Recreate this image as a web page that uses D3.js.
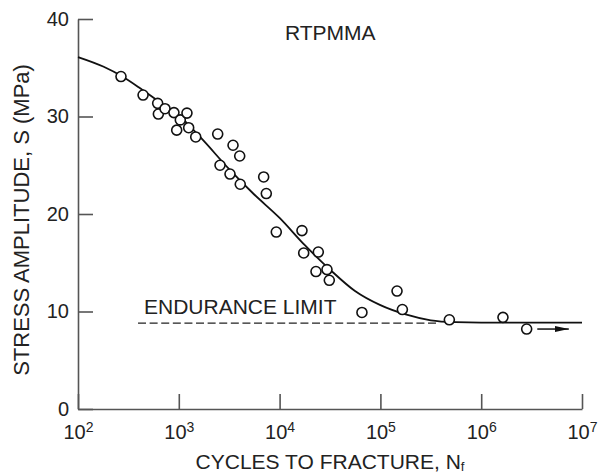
<!DOCTYPE html>
<html>
<head>
<meta charset="utf-8">
<script src="https://cdn.jsdelivr.net/npm/d3@7"></script>
<style>
    body { margin: 0; background: #fff; }
    svg text { font-family: "Liberation Sans", Arial, Helvetica, sans-serif; fill: #222; }
    .axis path, .axis line { stroke: #555; stroke-width: 1.6; }
</style>
</head>
<body>
<div id="chart"></div>
<script>
/**
 * S-N curve for RTPMMA: stress amplitude against cycles to fracture,
 * with the fitted curve and the endurance limit.
 */

/**** DATA ****/

// test points: cycles to fracture and stress amplitude (MPa)
var pointCycles = [267, 442, 617, 627, 730, 895, 953, 1035, 1205, 1253,
    1472, 2432, 2564, 3451, 3221, 4020, 4070, 6950, 7380, 9270,
    16670, 17340, 24210, 22960, 29510, 31120, 65600, 146200, 165200,
    483000, 1644000, 2825000];
var pointStress = [34.1, 32.2, 31.35, 30.25, 30.8, 30.4, 28.6, 29.65, 30.35, 28.85,
    27.9, 28.2, 25.0, 27.05, 24.1, 25.95, 23.05, 23.8, 22.1, 18.15,
    18.3, 16.0, 16.1, 14.1, 14.3, 13.2, 9.9, 12.1, 10.2,
    9.15, 9.4, 8.2];

var curveCycles = [1e2, 1.8e2, 2.7e2, 4e2, 6.2e2, 1e3, 1.66e3, 3.16e3, 5.6e3, 1e4,
    1.78e4, 3.16e4, 5.6e4, 1e5, 1.78e5, 3.16e5, 5.6e5, 1e6, 3.16e6, 1e7];
var curveStress = [36.1, 35.1, 34.15, 33.0, 31.6, 30.1, 27.8, 24.6, 22.0, 19.6,
    16.8, 14.3, 12.1, 10.65, 9.7, 9.1, 8.9, 8.85, 8.85, 8.85];

// endurance limit (dashed) and the run-out arrow
var enduranceCycles = [394, 361000];
var enduranceStress = 8.8;
var arrowCycles = [3.6e6, 7.4e6];
var arrowStress = 8.2;

// axis ticks
var xTickExponents = [2, 3, 4, 5, 6, 7];
var yTicks = [0, 10, 20, 30, 40];

/**** LAYOUT ****/

var WIDTH = 599;
var HEIGHT = 473;
var margin = { top: 19, right: 17, bottom: 64, left: 78 };
var plotW = WIDTH - margin.left - margin.right;
var plotH = HEIGHT - margin.top - margin.bottom;

var svg = d3.select("#chart")
    .append("svg")
    .attr("width", WIDTH)
    .attr("height", HEIGHT);

var g = svg.append("g")
    .attr("transform", "translate(" + margin.left + "," + margin.top + ")");

var x = d3.scaleLog().domain([1e2, 1e7]).range([0, plotW]);
var y = d3.scaleLinear().domain([0, 40]).range([plotH, 0]);

/**** AXES ****/

// ticks point inward, into the plot
var yAxis = d3.axisLeft(y)
    .tickValues(yTicks)
    .tickSizeInner(-15)
    .tickSizeOuter(0)
    .tickPadding(9);

var xAxis = d3.axisBottom(x)
    .tickValues(xTickExponents.map(function(e) { return Math.pow(10, e); }))
    .tickSizeInner(-15)
    .tickSizeOuter(0)
    .tickPadding(16)
    .tickFormat("");

var gy = g.append("g").attr("class", "axis").call(yAxis);
gy.selectAll("text").attr("font-size", 20);

var gx = g.append("g")
    .attr("class", "axis")
    .attr("transform", "translate(0," + plotH + ")")
    .call(xAxis);

// powers of ten as 10 with a superscript exponent
gx.selectAll(".tick text")
    .attr("font-size", 20)
    .each(function(d) {
        var label = d3.select(this).text("10");
        label.append("tspan")
            .attr("font-size", 14)
            .attr("dy", -7.5)
            .text(Math.round(Math.log10(d)));
    });

/**** MARKS ****/

var curveData = curveCycles.map(function(c, i) { return [c, curveStress[i]]; });

var line = d3.line()
    .x(function(d) { return x(d[0]); })
    .y(function(d) { return y(d[1]); })
    .curve(d3.curveMonotoneX);

g.append("path")
    .datum(curveData)
    .attr("fill", "none")
    .attr("stroke", "#111")
    .attr("stroke-width", 1.8)
    .attr("d", line);

// endurance limit
g.append("line")
    .attr("x1", x(enduranceCycles[0]))
    .attr("x2", x(enduranceCycles[1]))
    .attr("y1", y(enduranceStress))
    .attr("y2", y(enduranceStress))
    .attr("stroke", "#222")
    .attr("stroke-width", 1.3)
    .attr("stroke-dasharray", "8,3.6");

// run-out arrow
svg.append("defs").append("marker")
    .attr("id", "arrowhead")
    .attr("viewBox", "0 0 14 6")
    .attr("refX", 14)
    .attr("refY", 3)
    .attr("markerWidth", 14)
    .attr("markerHeight", 6)
    .attr("markerUnits", "userSpaceOnUse")
    .attr("orient", "auto")
    .append("path")
    .attr("d", "M0,0L14,3L0,6Z")
    .attr("fill", "#111");

g.append("line")
    .attr("x1", x(arrowCycles[0]))
    .attr("x2", x(arrowCycles[1]))
    .attr("y1", y(arrowStress))
    .attr("y2", y(arrowStress))
    .attr("stroke", "#111")
    .attr("stroke-width", 1.5)
    .attr("marker-end", "url(#arrowhead)");

var pointData = pointCycles.map(function(c, i) { return [c, pointStress[i]]; });

g.append("g")
    .selectAll("circle")
    .data(pointData)
    .enter()
    .append("circle")
    .attr("cx", function(d) { return x(d[0]); })
    .attr("cy", function(d) { return y(d[1]); })
    .attr("r", 5)
    .attr("fill", "#fff")
    .attr("stroke", "#111")
    .attr("stroke-width", 1.6);

/**** TEXT ****/

svg.append("text")
    .attr("x", 285)
    .attr("y", 40)
    .attr("font-size", 21)
    .text("RTPMMA");

svg.append("text")
    .attr("x", 144)
    .attr("y", 314)
    .attr("font-size", 21)
    .text("ENDURANCE LIMIT");

var xTitle = svg.append("text")
    .attr("x", 330)
    .attr("y", 469)
    .attr("font-size", 21)
    .attr("text-anchor", "middle")
    .text("CYCLES TO FRACTURE, N");
xTitle.append("tspan")
    .attr("font-size", 13)
    .attr("dy", 2)
    .text("f");

svg.append("text")
    .attr("transform", "translate(29,220) rotate(-90)")
    .attr("font-size", 22)
    .attr("text-anchor", "middle")
    .text("STRESS AMPLITUDE, S (MPa)");
</script>
</body>
</html>
